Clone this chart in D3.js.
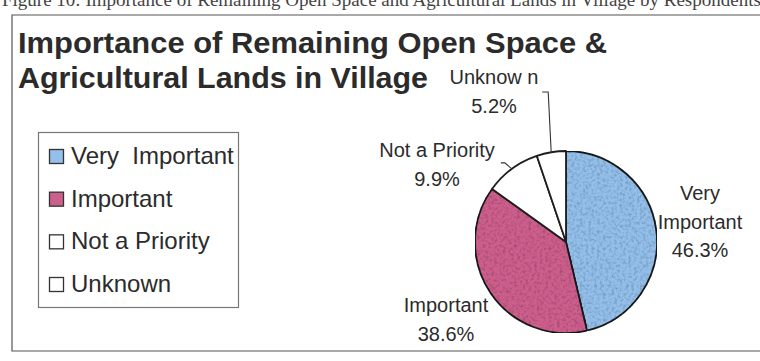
<!DOCTYPE html>
<html>
<head>
<meta charset="utf-8">
<script src="https://cdn.jsdelivr.net/npm/d3@7"></script>
<style>
  html, body { margin: 0; padding: 0; background: #fff; }
  svg { display: block; }
  text { font-family: "Liberation Sans", Arial, sans-serif; }
</style>
</head>
<body>
<svg id="chart" width="760" height="361"></svg>
<script>
// Survey responses
const categories = ["Very Important", "Important", "Not a Priority", "Unknown"];
const shares = [46.3, 38.6, 9.9, 5.2];
// Slice labels as they appear beside the pie (Excel wrapped "Unknown" oddly)
const sliceLabelNames = [["Very", "Important"], ["Important"], ["Not a Priority"], ["Unknow n"]];
const legendNames = ["Very  Important", "Important", "Not a Priority", "Unknown"];
const sliceColors = ["#93bfea", "#cd5f8d", "#ffffff", "#ffffff"];

const W = 760, H = 361;
const svg = d3.select("#chart");

// texture for the printed, speckled fill
const defs = svg.append("defs");
const grain = defs.append("filter").attr("id", "grain")
  .attr("x", 0).attr("y", 0).attr("width", 1).attr("height", 1);
grain.append("feTurbulence").attr("type", "fractalNoise")
  .attr("baseFrequency", 0.35).attr("numOctaves", 2).attr("seed", 4).attr("result", "noise");
grain.append("feColorMatrix").attr("in", "noise").attr("type", "matrix")
  .attr("values", "0 0 0 0 0  0 0 0 0 0  0 0 0 0 0  0 0 0 0.9 -0.38")
  .attr("result", "speck");
grain.append("feComposite").attr("in", "speck").attr("in2", "SourceGraphic")
  .attr("operator", "in").attr("result", "speckIn");
grain.append("feMerge").selectAll("feMergeNode")
  .data(["SourceGraphic", "speckIn"]).join("feMergeNode").attr("in", d => d);

// caption line of the page, cut off at the top edge
svg.append("text")
  .attr("x", 2).attr("y", 6)
  .attr("font-family", "Liberation Serif, Times New Roman, serif")
  .attr("font-size", 19).attr("fill", "#444")
  .style("font-family", "'Liberation Serif', serif")
  .text("Figure 10: Importance of Remaining Open Space and Agricultural Lands in Village by Respondents");

// chart frame
const frame = svg.append("g").attr("fill", "none").attr("stroke", "#555").attr("stroke-width", 1.2);
frame.append("path").attr("d", d3.line()([[W + 2, 15], [12, 15], [12, 351], [W + 2, 351]]));

// title
const title = svg.append("text")
  .attr("font-weight", "bold").attr("font-size", 30).attr("fill", "#2b2b2b");
title.append("tspan").attr("x", 18).attr("y", 53)
  .attr("textLength", 589).attr("lengthAdjust", "spacingAndGlyphs")
  .text("Importance of Remaining Open Space &");
title.append("tspan").attr("x", 18).attr("y", 88)
  .attr("textLength", 410).attr("lengthAdjust", "spacingAndGlyphs")
  .text("Agricultural Lands in Village");

// legend
const color = d3.scaleOrdinal().domain(categories).range(sliceColors);
const legend = svg.append("g");
legend.append("rect").attr("x", 38.5).attr("y", 132.5).attr("width", 200).attr("height", 175)
  .attr("fill", "#fff").attr("stroke", "#777").attr("stroke-width", 1.2);
const legendY = d3.scalePoint().domain(categories).range([164, 292]);
const items = legend.selectAll("g.item").data(categories).join("g")
  .attr("class", "item")
  .attr("transform", d => `translate(0,${legendY(d)})`);
items.append("rect")
  .attr("x", 49.5).attr("y", -14.5).attr("width", 14).attr("height", 14)
  .attr("fill", d => color(d)).attr("stroke", "#333").attr("stroke-width", 1.3);
items.append("text")
  .attr("x", 71).attr("y", 0)
  .attr("font-size", 24).attr("fill", "#2b2b2b")
  .style("white-space", "pre")
  .text((d, i) => legendNames[i]);

// pie
const cx = 566, cy = 242, R = 91;
const pie = d3.pie().sort(null).value(d => d.value);
const arcs = pie(categories.map((c, i) => ({ name: c, value: shares[i] })));
const arc = d3.arc().innerRadius(0).outerRadius(R);
const rim = d3.arc().innerRadius(R).outerRadius(R);

const g = svg.append("g").attr("transform", `translate(${cx},${cy})`);
g.selectAll("path.slice").data(arcs).join("path")
  .attr("class", "slice")
  .attr("d", arc)
  .attr("fill", d => color(d.data.name))
  .attr("filter", d => d.index < 2 ? "url(#grain)" : null)
  .attr("stroke", "#1e1e1e").attr("stroke-width", 1.8).attr("stroke-linejoin", "round");

// slice labels: placement of each label block, relative to the pie centre
const labelSpots = [
  { dx: 134, dy: -42 },   // Very Important
  { dx: -120, dy: 70 },   // Important
  { dx: -129, dy: -85 },  // Not a Priority
  { dx: -72, dy: -158 }   // Unknown
];
const fmt = d3.format(".1f");
const lineH = 28.5;
arcs.forEach((a, i) => {
  const lines = sliceLabelNames[i].concat([fmt(a.data.value) + "%"]);
  const t = g.append("text")
    .attr("text-anchor", "middle").attr("font-size", 20).attr("fill", "#2b2b2b");
  lines.forEach((s, k) => {
    t.append("tspan").attr("x", labelSpots[i].dx).attr("y", labelSpots[i].dy + k * lineH).text(s);
  });
});

// leader lines for the two small slices
const leader = d3.line();
const cUnknown = rim.centroid(arcs[3]);
g.append("path")
  .attr("d", leader([cUnknown, [cUnknown[0] - 3, -150], [cUnknown[0] - 9, -150]]))
  .attr("fill", "none").attr("stroke", "#333").attr("stroke-width", 1.1);
const cNot = rim.centroid(arcs[2]);
g.append("path")
  .attr("d", leader([cNot, [cNot[0] - 7, cNot[1] - 6], [cNot[0] - 11, cNot[1] - 6]]))
  .attr("fill", "none").attr("stroke", "#333").attr("stroke-width", 1.1);
</script>
</body>
</html>
